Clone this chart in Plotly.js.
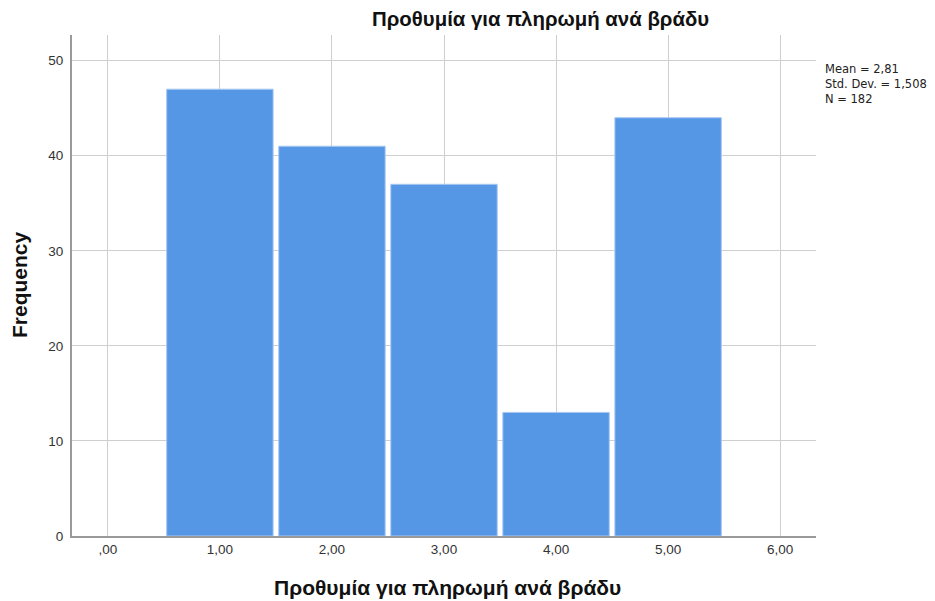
<!DOCTYPE html>
<html>
<head>
<meta charset="utf-8">
<script src="https://cdn.plot.ly/plotly-3.0.1.min.js"></script>
<style>html,body{margin:0;padding:0;background:#fff;}#chart{width:935px;height:601px;}</style>
</head>
<body>
<div id="chart"></div>
<script>
var categories = [1, 2, 3, 4, 5];
var frequencies = [47, 41, 37, 13, 44];
var xTickVals = [0, 1, 2, 3, 4, 5, 6];
var xTickText = [",00", "1,00", "2,00", "3,00", "4,00", "5,00", "6,00"];
var yTickVals = [0, 10, 20, 30, 40, 50];
var statsLines = ["Mean = 2,81", "Std. Dev. = 1,508", "N = 182"];
var titleText = "Προθυμία για πληρωμή ανά βράδυ";
var xTitleText = "Προθυμία για πληρωμή ανά βράδυ";
var yTitleText = "Frequency";

var trace = {
  type: "bar",
  x: categories,
  y: frequencies,
  width: 0.95,
  marker: {color: "#5596e5", line: {color: "#a9c9f2", width: 1}},
  hoverinfo: "x+y"
};

var font = "Arial, 'Liberation Sans', sans-serif";
var annotations = [
  {text: "<b>" + titleText + "</b>", xref: "paper", yref: "paper",
   x: (540 - 72) / 744, y: 1, yshift: 16, xanchor: "center", yanchor: "middle",
   showarrow: false, font: {family: font, size: 20.4, color: "#111"}},
  {text: "<b>" + xTitleText + "</b>", xref: "paper", yref: "paper",
   x: (447 - 72) / 744, y: 0, yshift: -51, xanchor: "center", yanchor: "middle",
   showarrow: false, font: {family: font, size: 21, color: "#111"}},
  {text: "<b>" + yTitleText + "</b>", xref: "paper", yref: "paper",
   x: 0, xshift: -53, y: (536 - 285) / 501, xanchor: "center", yanchor: "middle",
   textangle: -90, showarrow: false, font: {family: font, size: 21, color: "#111"}},
  {text: statsLines.join("<br>"), xref: "paper", yref: "paper",
   x: 1, xshift: 7, y: (536 - 60) / 501, xanchor: "left", yanchor: "top", align: "left",
   showarrow: false, font: {family: "'DejaVu Sans', sans-serif", size: 11.5, color: "#222"}}
];

var layout = {
  width: 935, height: 601,
  margin: {l: 72, r: 119, t: 35, b: 65},
  paper_bgcolor: "#fff", plot_bgcolor: "#fff",
  font: {family: font, size: 13.5, color: "#333"},
  showlegend: false,
  bargap: 0,
  xaxis: {
    range: [-0.32, 6.32],
    tickvals: xTickVals, ticktext: xTickText,
    showgrid: true, gridcolor: "#cfcfcf", gridwidth: 1,
    showline: true, linecolor: "#9a9a9a", linewidth: 2,
    zeroline: false, ticks: "", ticklen: 0,
    tickfont: {size: 13.5, color: "#333"},
    fixedrange: true
  },
  yaxis: {
    range: [0, 52.7],
    tickvals: yTickVals,
    showgrid: true, gridcolor: "#cfcfcf", gridwidth: 1,
    showline: true, linecolor: "#9a9a9a", linewidth: 2,
    zeroline: false, ticks: "", ticklen: 0, ticklabelstandoff: 4,
    tickfont: {size: 13.5, color: "#333"},
    fixedrange: true
  },
  annotations: annotations
};

Plotly.newPlot("chart", [trace], layout, {displayModeBar: false, staticPlot: true});
</script>
</body>
</html>
